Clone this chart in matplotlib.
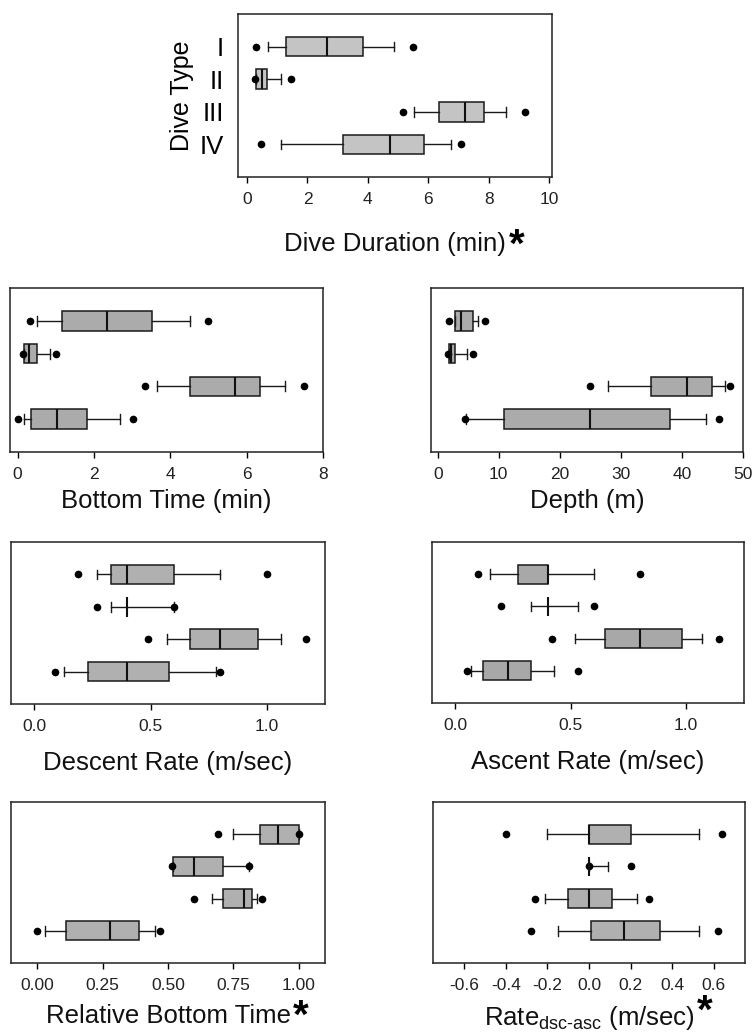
import numpy as np
import matplotlib.pyplot as plt

plt.rcParams['font.family'] = ['Liberation Sans', 'DejaVu Sans']
plt.rcParams['mathtext.fontset'] = 'custom'
plt.rcParams['mathtext.rm'] = 'Liberation Sans'
plt.rcParams['mathtext.default'] = 'regular'
plt.rcParams['axes.unicode_minus'] = False

dive_types = ['I', 'II', 'III', 'IV']

# rows per dive type: 5th pct dot, whisker lo, q1, median, q3, whisker hi, 95th pct dot
duration = [[0.28, 0.71, 1.29, 2.64, 3.84, 4.87, 5.51],
            [0.27, 0.31, 0.31, 0.48, 0.66, 1.13, 1.46],
            [5.18, 5.53, 6.36, 7.22, 7.86, 8.58, 9.21],
            [0.47, 1.13, 3.19, 4.72, 5.87, 6.77, 7.08]]
bottom_time = [[0.32, 0.50, 1.17, 2.33, 3.52, 4.51, 5.00],
               [0.13, 0.17, 0.17, 0.31, 0.50, 0.85, 1.00],
               [3.33, 3.66, 4.51, 5.69, 6.34, 7.00, 7.50],
               [0.00, 0.17, 0.34, 1.02, 1.83, 2.68, 3.01]]
depth = [[1.8, 2.84, 2.84, 3.82, 5.78, 6.55, 7.7],
         [1.75, 1.86, 1.86, 2.2, 2.78, 4.8, 5.73],
         [24.9, 27.9, 34.9, 40.9, 45.0, 47.0, 47.9],
         [4.5, 4.7, 10.9, 25.0, 38.0, 44.0, 46.0]]
descent = [[0.19, 0.27, 0.33, 0.40, 0.60, 0.80, 1.00],
           [0.27, 0.33, 0.40, 0.40, 0.40, 0.60, 0.60],
           [0.49, 0.57, 0.67, 0.80, 0.96, 1.06, 1.17],
           [0.09, 0.13, 0.23, 0.40, 0.58, 0.78, 0.80]]
ascent = [[0.10, 0.15, 0.27, 0.40, 0.40, 0.60, 0.80],
          [0.20, 0.33, 0.40, 0.40, 0.40, 0.53, 0.60],
          [0.42, 0.52, 0.65, 0.80, 0.98, 1.07, 1.14],
          [0.05, 0.07, 0.12, 0.23, 0.33, 0.43, 0.53]]
rel_bottom = [[0.69, 0.75, 0.85, 0.92, 1.00, 1.00, 1.00],
              [0.516, 0.52, 0.52, 0.60, 0.71, 0.81, 0.81],
              [0.60, 0.67, 0.71, 0.79, 0.82, 0.84, 0.86],
              [0.00, 0.03, 0.11, 0.28, 0.39, 0.45, 0.47]]
rate_diff = [[-0.40, -0.20, 0.00, 0.00, 0.20, 0.53, 0.64],
             [0.00, 0.00, 0.00, 0.00, 0.00, 0.09, 0.20],
             [-0.26, -0.21, -0.10, 0.00, 0.11, 0.23, 0.29],
             [-0.28, -0.15, 0.01, 0.17, 0.34, 0.53, 0.62]]

dur_ticks = [0, 2, 4, 6, 8, 10]
bt_ticks = [0, 2, 4, 6, 8]
depth_ticks = [0, 10, 20, 30, 40, 50]
rate_ticks = [0.0, 0.5, 1.0]
rel_ticks = [0.0, 0.25, 0.5, 0.75, 1.0]
diff_ticks = [-0.6, -0.4, -0.2, 0.0, 0.2, 0.4, 0.6]

W, H = 753, 1034
fig = plt.figure(figsize=(W / 100, H / 100), dpi=100)


def px_axes(x0, y0, x1, y1):
    return fig.add_axes([x0 / W, 1 - y1 / H, (x1 - x0) / W, (y1 - y0) / H])


def draw_box(ax, rows, shade):
    stats = []
    for r in rows:
        stats.append(dict(whislo=r[1], q1=r[2], med=r[3], q3=r[4], whishi=r[5],
                          fliers=[r[0], r[6]]))
    ax.bxp(stats, positions=[4, 3, 2, 1], orientation='horizontal', widths=0.6,
           patch_artist=True,
           boxprops=dict(facecolor=shade, edgecolor='#1a1a1a', linewidth=1.1),
           medianprops=dict(color='#111111', linewidth=1.5),
           whiskerprops=dict(color='#1a1a1a', linewidth=1.0),
           capprops=dict(color='#1a1a1a', linewidth=1.0),
           flierprops=dict(marker='o', markerfacecolor='k', markeredgecolor='k',
                           markersize=4.5, linestyle='none'))
    ax.set_ylim(0.0, 5.0)


def style(ax, xlim, ticks, fmt, label, pad, star_y=None):
    ax.set_xlim(*xlim)
    ax.set_xticks(ticks)
    ax.set_xticklabels([fmt.format(t) for t in ticks], fontsize=12.5, color='#222222')
    ax.tick_params(axis='x', direction='out', length=4, width=1, pad=7)
    ax.tick_params(axis='y', length=0)
    for s in ax.spines.values():
        s.set_linewidth(1.1)
        s.set_color('#222222')
    ax.set_xlabel(label, fontsize=18.5, labelpad=pad, color='#111111')
    if star_y is not None:
        # bold asterisk just right of the axis label
        ax.annotate('*', xy=(1, star_y), xycoords=ax.xaxis.label, xytext=(2, 0),
                    textcoords='offset points', fontsize=29, fontweight='bold',
                    ha='left', va='center')


# top panel
ax = px_axes(238, 14, 552, 177)
draw_box(ax, duration, '#c4c4c4')
style(ax, (-0.3, 10.1), dur_ticks, '{:g}', 'Dive Duration (min)', 18, star_y=0.42)
ax.set_yticks([4, 3, 2, 1])
ax.set_yticklabels(dive_types, fontsize=18.5)
ax.tick_params(axis='y', pad=10)
ax.set_ylabel('Dive Type', fontsize=18, labelpad=4)

ax = px_axes(10, 288, 323, 452)
draw_box(ax, bottom_time, '#ababab')
style(ax, (-0.2, 8.0), bt_ticks, '{:g}', 'Bottom Time (min)', 5)
ax.set_yticks([])

ax = px_axes(431, 288, 743, 452)
draw_box(ax, depth, '#ababab')
style(ax, (-1.1, 50.0), depth_ticks, '{:g}', 'Depth (m)', 5)
ax.set_yticks([])

ax = px_axes(11, 542, 325, 704)
draw_box(ax, descent, '#b0b0b0')
style(ax, (-0.1, 1.25), rate_ticks, '{:.1f}', 'Descent Rate (m/sec)', 12)
ax.set_yticks([])

ax = px_axes(432, 542, 744, 703)
draw_box(ax, ascent, '#a8a8a8')
style(ax, (-0.1, 1.25), rate_ticks, '{:.1f}', 'Ascent Rate (m/sec)', 12)
ax.set_yticks([])

ax = px_axes(11, 802, 325, 963)
draw_box(ax, rel_bottom, '#b0b0b0')
style(ax, (-0.1, 1.1), rel_ticks, '{:.2f}', 'Relative Bottom Time', 8, star_y=0.5)
ax.set_yticks([])

ax = px_axes(433, 802, 745, 963)
draw_box(ax, rate_diff, '#b0b0b0')
style(ax, (-0.75, 0.75), diff_ticks, '{:.1f}', r'Rate$_{\text{dsc-asc}}$ (m/sec)', 8,
      star_y=0.72)
ax.set_yticks([])

fig.savefig('out.png', dpi=100, facecolor='white')
